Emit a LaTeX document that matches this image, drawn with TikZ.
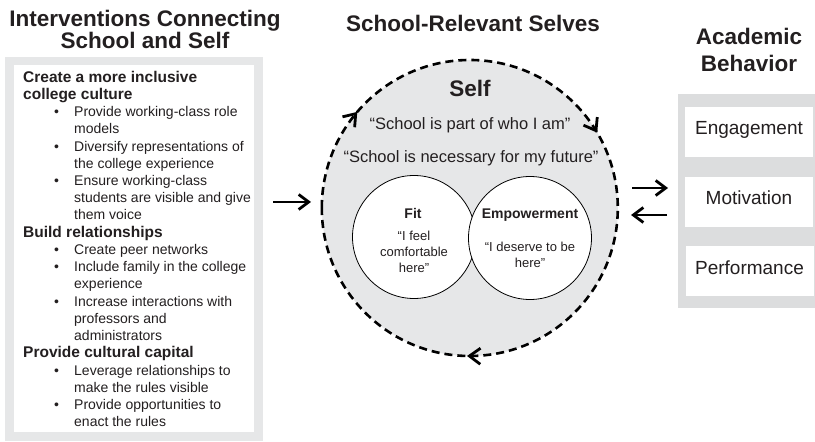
\documentclass[tikz,border=0pt]{standalone}
\usepackage{fontspec}
\setmainfont{Liberation Sans}
\usetikzlibrary{arrows.meta,decorations.markings,positioning}
\definecolor{ink}{HTML}{231F20}
\definecolor{paleback}{HTML}{E6E7E8}
\definecolor{sideback}{HTML}{DCDDDE}
\newcommand{\grouphead}[1]{{\fontsize{15.5}{17.25}\selectfont\bfseries #1}}
\newcommand{\itemline}[1]{\hspace*{31pt}\makebox[20pt][l]{\textbullet}#1}
\newcommand{\moreline}[1]{\hspace*{51pt}#1}

\begin{document}
\begin{tikzpicture}[x=1pt,y=1pt,
    title/.style={font=\fontsize{22.5}{22}\selectfont\bfseries, text=ink, align=center, inner sep=0pt, anchor=base},
    flow/.style={-{Straight Barb[length=10pt,width=15pt]}, line width=2.8pt},
    ring/.style={line width=2.6pt, dash pattern=on 8pt off 5pt,
      decoration={markings,
        mark=at position 0.1125 with {\arrow{Straight Barb[length=11pt,width=16pt,line width=2.8pt]}},
        mark=at position 0.415 with {\arrow{Straight Barb[length=11pt,width=16pt,line width=2.8pt]}},
        mark=at position 0.753 with {\arrow{Straight Barb[length=11pt,width=16pt,line width=2.8pt]}}},
      postaction={decorate}},
    part/.style={circle, draw, line width=0.8pt, fill=white, minimum size=123pt, inner sep=0pt},
    behave/.style={fill=white, minimum width=128pt, minimum height=50pt, inner sep=0pt,
      text height=13pt, text depth=7pt, font=\fontsize{19}{22}\selectfont, text=ink}]
  \useasboundingbox (0,0) rectangle (815,442);
  % Draw titles
  \node (ttlleft) [title] at (145,393) {Interventions Connecting\\School and Self};
  \node (ttlmid) [title] at (473,410) {School-Relevant Selves};
  \node (ttlright) [title, font=\fontsize{22.5}{27}\selectfont\bfseries] at (749,370) {Academic\\Behavior};
  % Draw the interventions box
  \node (outerleft) [fill=paleback, minimum width=258pt, minimum height=384pt, inner sep=0pt] at (134,193) {};
  \node (innerleft) [fill=white, minimum width=240pt, minimum height=367pt, inner sep=0pt] at (134,193.5) {};
  \node (agenda) [anchor=base west, align=left, font=\fontsize{14}{17.25}\selectfont, text=ink, inner sep=0pt] at (23,15) {
    \grouphead{Create a more inclusive}\\
    \grouphead{college culture}\\
    \itemline{Provide working-class role}\\
    \moreline{models}\\
    \itemline{Diversify representations of}\\
    \moreline{the college experience}\\
    \itemline{Ensure working-class}\\
    \moreline{students are visible and give}\\
    \moreline{them voice}\\
    \grouphead{Build relationships}\\
    \itemline{Create peer networks}\\
    \itemline{Include family in the college}\\
    \moreline{experience}\\
    \itemline{Increase interactions with}\\
    \moreline{professors and}\\
    \moreline{administrators}\\
    \grouphead{Provide cultural capital}\\
    \itemline{Leverage relationships to}\\
    \moreline{make the rules visible}\\
    \itemline{Provide opportunities to}\\
    \moreline{enact the rules}};
  % Draw the self circle
  \node (selfring) [circle, fill=paleback, minimum size=296pt, inner sep=0pt] at (470,234) {};
  \draw [ring] (selfring.west) arc [start angle=180, end angle=-180, radius=148pt];
  \node (selfword) [anchor=base, font=\fontsize{22.5}{22}\selectfont\bfseries, text=ink] at (470,345) {Self};
  \node (partof) [anchor=base, font=\fontsize{16.5}{19}\selectfont, text=ink] at (470,312) {“School is part of who I am”};
  \node (needed) [anchor=base, font=\fontsize{16.5}{19}\selectfont, text=ink] at (471,279) {“School is necessary for my future”};
  % Draw fit and empowerment
  \node (fitc) [part] at (414,205) {};
  \node (empc) [part] at (530,204) {};
  \node (fitword) [anchor=base, font=\fontsize{14}{16}\selectfont\bfseries, text=ink] at (413,223) {Fit};
  \node (fitsay) [anchor=base, align=center, font=\fontsize{13}{16}\selectfont, text=ink, inner sep=0pt] at (414,169) {“I feel\\comfortable\\here"};
  \node (empword) [anchor=base, font=\fontsize{14}{16}\selectfont\bfseries, text=ink] at (530,223) {Empowerment};
  \node (empsay) [anchor=base, align=center, font=\fontsize{13}{16}\selectfont, text=ink, inner sep=0pt] at (530,174) {“I deserve to be\\here"};
  % Draw the behavior box
  \node (behbox) [fill=sideback, minimum width=137pt, minimum height=214pt, inner sep=0pt] at (746.5,241) {};
  \node (engage) [behave] at (749,310) {Engagement};
  \node (motive) [behave] at (749,240) {Motivation};
  \node (perform) [behave] at (749.5,170.5) {Performance};
  % Draw arrows
  \coordinate (inA) at (273,240);
  \coordinate (inB) at (311,240);
  \coordinate (toA) at (632,254);
  \coordinate (toB) at (668,254);
  \coordinate (backA) at (667,227);
  \coordinate (backB) at (631,227);
  \draw [flow] (inA) -- (inB);
  \draw [flow] (toA) -- (toB);
  \draw [flow] (backA) -- (backB);
\end{tikzpicture}
\end{document}
